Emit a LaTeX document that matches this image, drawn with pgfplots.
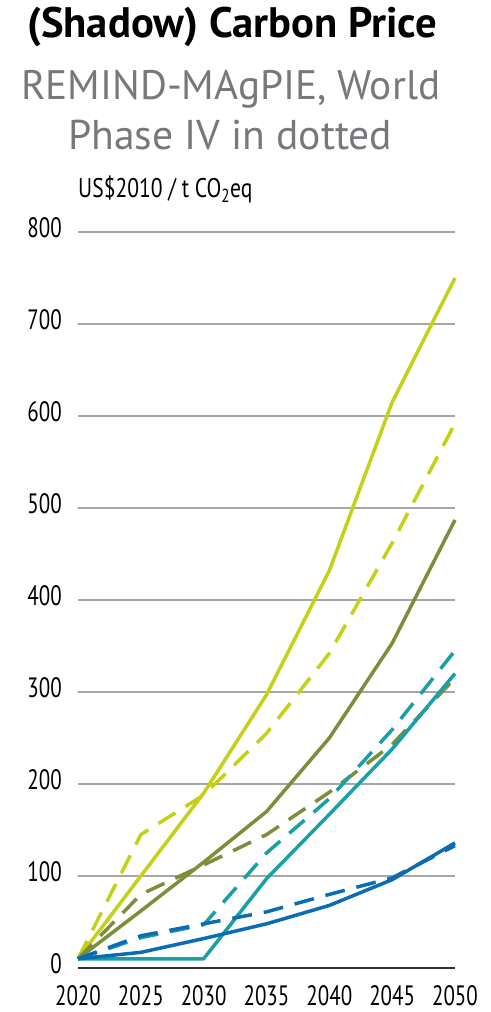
\documentclass[border=0pt]{standalone}
\usepackage{fontspec}
\setmainfont{PT Sans}
\newfontfamily\condfont[FakeStretch=0.75]{PT Sans}
\newfontfamily\unitfont[FakeStretch=0.8]{PT Sans}
\usepackage{graphicx}
\usepackage{pgfplots}
\pgfplotsset{compat=1.18}
\definecolor{cyel}{HTML}{C5D117}
\definecolor{colive}{HTML}{7E8D3A}
\definecolor{cteal}{HTML}{19A0A6}
\definecolor{cblue}{HTML}{0A6CB4}
\definecolor{csub}{HTML}{77787B}
\begin{document}
\begin{tikzpicture}[x=1pt,y=1pt]
\useasboundingbox (0,0) rectangle (490,1012);
\node[anchor=base west, inner sep=0] at (27,974) {\resizebox{410pt}{!}{\bfseries (Shadow) Carbon Price}};
\node[anchor=base west, inner sep=0, text=csub] at (21,912) {\resizebox{419pt}{!}{REMIND-MAgPIE, World}};
\node[anchor=base west, inner sep=0, text=csub] at (68,862) {\resizebox{324pt}{!}{Phase IV in dotted}};
\node[anchor=base west, inner sep=0] at (78,814) {\unitfont\fontsize{27}{27}\selectfont US\$2010 / t CO\textsubscript{2}eq};
\begin{axis}[
  at={(78pt,44pt)}, anchor=south west,
  scale only axis, width=377pt, height=736pt,
  xmin=2020, xmax=2050, ymin=0, ymax=800,
  xtick={2020,2025,...,2050}, ytick={0,100,...,800},
  axis line style={draw=none},
  major tick length=0pt,
  ymajorgrids, grid style={color=black!35, line width=1.3pt},
  clip=false,
  /pgf/number format/assume math mode=true,
  /pgf/number format/set thousands separator={},
  xticklabel style={font=\condfont\fontsize{28}{28}\selectfont, anchor=north, inner sep=0pt, yshift=-17pt},
  yticklabel style={font=\condfont\fontsize{28}{28}\selectfont, anchor=east, inner sep=0pt, xshift=-16pt, yshift=4pt},
  every axis plot/.append style={line width=3.5pt, line join=round},
  sdash/.style={dash pattern=on 20pt off 12pt},
]
\draw[black!80, line width=1.3pt] (axis cs:2020,0) -- (axis cs:2050,0);
% yellow-green
\addplot[cyel, sdash] coordinates {(2020,10) (2025,145) (2030,188) (2035,255) (2040,342) (2045,462) (2050,592)};
\addplot[cyel] coordinates {(2020,10) (2025,100) (2030,190) (2035,297) (2040,432) (2045,615) (2050,750)};
% olive
\addplot[colive, sdash] coordinates {(2020,10) (2025,80) (2030,112) (2035,145) (2040,191) (2045,243) (2050,315)};
\addplot[colive] coordinates {(2020,10) (2025,62) (2030,115) (2035,170) (2040,250) (2045,353) (2050,487)};
% teal
\addplot[cteal, sdash] coordinates {(2020,10) (2025,33) (2030,47) (2035,125) (2040,184) (2045,259) (2050,345)};
\addplot[cteal] coordinates {(2020,10) (2025,10) (2030,10) (2035,97) (2040,167) (2045,238) (2050,320)};
% blue
\addplot[cblue, sdash] coordinates {(2020,10) (2025,35) (2030,48) (2035,61) (2040,80) (2045,98) (2050,133)};
\addplot[cblue] coordinates {(2020,10) (2025,17) (2030,32) (2035,48) (2040,68) (2045,96) (2050,136)};
\end{axis}
\end{tikzpicture}
\end{document}
